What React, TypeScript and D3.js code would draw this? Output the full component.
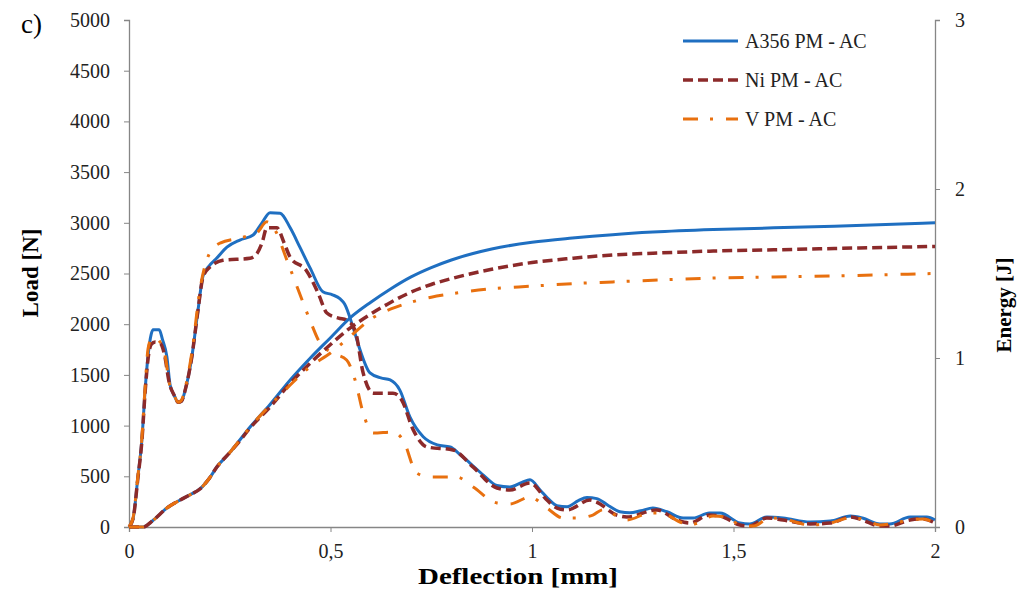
import React, { useRef, useEffect } from 'react';
import * as d3 from 'd3';

// Load curves (left axis, N) vs deflection (mm)
const a356Defl = [0, 0.01, 0.022, 0.032, 0.04, 0.047, 0.055, 0.06, 0.075, 0.083, 0.094, 0.102, 0.112, 0.122, 0.13, 0.14, 0.156, 0.17, 0.184, 0.2, 0.215, 0.243, 0.275, 0.308, 0.33, 0.35, 0.375, 0.4, 0.424, 0.45, 0.481, 0.505, 0.524, 0.535, 0.556, 0.573, 0.598, 0.625, 0.648, 0.672, 0.697, 0.73, 0.765, 0.797, 0.82, 0.846, 0.88, 0.913, 0.945, 0.975, 0.995, 1.02, 1.045, 1.062, 1.087, 1.115, 1.136, 1.161, 1.19, 1.218, 1.243, 1.27, 1.3, 1.335, 1.375, 1.4, 1.44, 1.467, 1.516, 1.54, 1.583, 1.623, 1.69, 1.74, 1.79, 1.82, 1.863, 1.888, 1.938, 1.98, 2.0];
const a356Load = [0, 80, 490, 860, 1350, 1680, 1900, 1945, 1945, 1850, 1680, 1400, 1300, 1230, 1240, 1360, 1680, 2100, 2480, 2580, 2640, 2760, 2830, 2880, 3000, 3100, 3095, 2950, 2760, 2550, 2320, 2290, 2250, 2200, 1970, 1750, 1520, 1470, 1450, 1350, 1085, 890, 810, 790, 720, 630, 510, 410, 395, 440, 465, 365, 260, 210, 200, 260, 290, 280, 210, 150, 140, 160, 187, 150, 89, 89, 138, 138, 39, 30, 99, 89, 49, 59, 108, 89, 30, 30, 99, 99, 69];

const niDefl = [0, 0.01, 0.022, 0.032, 0.04, 0.047, 0.055, 0.065, 0.078, 0.088, 0.1, 0.112, 0.122, 0.13, 0.14, 0.156, 0.17, 0.184, 0.2, 0.213, 0.233, 0.3, 0.318, 0.33, 0.342, 0.367, 0.385, 0.4, 0.44, 0.47, 0.491, 0.52, 0.54, 0.561, 0.581, 0.606, 0.655, 0.677, 0.705, 0.739, 0.804, 0.854, 0.913, 0.945, 0.995, 1.037, 1.062, 1.087, 1.144, 1.16, 1.21, 1.235, 1.31, 1.36, 1.392, 1.44, 1.467, 1.516, 1.54, 1.583, 1.623, 1.69, 1.74, 1.79, 1.82, 1.863, 1.888, 1.938, 1.97, 2.0];
const niLoad = [0, 80, 480, 850, 1330, 1650, 1800, 1825, 1810, 1700, 1420, 1300, 1230, 1240, 1360, 1680, 2100, 2470, 2560, 2600, 2630, 2650, 2700, 2800, 2950, 2950, 2800, 2660, 2530, 2300, 2110, 2060, 2040, 1940, 1520, 1320, 1320, 1250, 960, 790, 760, 590, 385, 365, 434, 266, 187, 168, 266, 246, 118, 99, 168, 69, 39, 118, 108, 20, 10, 89, 69, 30, 39, 99, 69, 10, 10, 69, 79, 39];

const vDefl = [0, 0.01, 0.022, 0.032, 0.04, 0.047, 0.055, 0.068, 0.08, 0.09, 0.1, 0.112, 0.122, 0.13, 0.14, 0.156, 0.176, 0.2, 0.226, 0.275, 0.317, 0.342, 0.362, 0.392, 0.417, 0.449, 0.474, 0.506, 0.54, 0.561, 0.581, 0.606, 0.655, 0.68, 0.714, 0.747, 0.813, 0.854, 0.913, 0.945, 0.995, 1.037, 1.077, 1.111, 1.151, 1.176, 1.235, 1.293, 1.32, 1.375, 1.4, 1.45, 1.48, 1.524, 1.55, 1.59, 1.623, 1.69, 1.74, 1.79, 1.82, 1.863, 1.888, 1.938, 1.97, 2.0];
const vLoad = [0, 90, 500, 880, 1380, 1750, 1850, 1860, 1800, 1680, 1420, 1300, 1230, 1250, 1380, 1720, 2340, 2700, 2800, 2850, 2900, 3010, 2930, 2630, 2370, 2040, 1815, 1716, 1647, 1450, 1124, 927, 937, 858, 532, 493, 493, 394, 237, 227, 296, 187, 89, 89, 118, 170, 69, 138, 138, 39, 30, 108, 99, 10, 10, 89, 79, 20, 39, 89, 79, 20, 30, 69, 79, 39];

// Energy curves (right axis, J)
const energyDefl = [0, 0.035, 0.06, 0.094, 0.127, 0.151, 0.176, 0.2, 0.218, 0.25, 0.275, 0.3, 0.35, 0.4, 0.45, 0.5, 0.55, 0.6, 0.65, 0.7, 0.75, 0.8, 0.9, 1.0, 1.1, 1.2, 1.3, 1.45, 1.6, 1.75, 2.0];
const a356Energy = [0, 0, 0.04, 0.112, 0.16, 0.19, 0.225, 0.29, 0.355, 0.44, 0.515, 0.59, 0.725, 0.87, 1.0, 1.12, 1.24, 1.33, 1.41, 1.48, 1.535, 1.58, 1.645, 1.685, 1.71, 1.73, 1.745, 1.76, 1.77, 1.78, 1.8];
const niEnergy = [0, 0, 0.04, 0.112, 0.16, 0.19, 0.225, 0.29, 0.355, 0.44, 0.51, 0.585, 0.71, 0.85, 0.97, 1.08, 1.18, 1.26, 1.33, 1.39, 1.435, 1.47, 1.525, 1.565, 1.59, 1.61, 1.62, 1.633, 1.64, 1.648, 1.66];
const vEnergy = [0, 0, 0.04, 0.112, 0.16, 0.19, 0.225, 0.29, 0.355, 0.44, 0.515, 0.59, 0.72, 0.84, 0.95, 1.03, 1.13, 1.23, 1.29, 1.33, 1.36, 1.38, 1.41, 1.425, 1.44, 1.45, 1.46, 1.473, 1.48, 1.486, 1.5];

const seriesNames = ['A356 PM - AC', 'Ni PM - AC', 'V PM - AC'];
const xTicks = [0, 0.5, 1, 1.5, 2];
const loadTicks = [0, 500, 1000, 1500, 2000, 2500, 3000, 3500, 4000, 4500, 5000];
const energyTicks = [0, 1, 2, 3];

const App = () => {
  const ref = useRef<SVGSVGElement>(null);
  const width = 1021;
  const height = 593;

  useEffect(() => {
    const margin = { top: 20, right: 86, bottom: 66, left: 129 };
    const font = '"Liberation Serif", "Times New Roman", serif';
    const axisColor = '#868686';

    const x = d3.scaleLinear().domain([0, 2]).range([margin.left, width - margin.right]);
    const yLoad = d3.scaleLinear().domain([0, 5000]).range([height - margin.bottom, margin.top]);
    const yEnergy = d3.scaleLinear().domain([0, 3]).range([height - margin.bottom, margin.top]);

    const styles = [
      { color: '#1f6fc1', dash: null, width: 3 },
      { color: '#8c2a2a', dash: '10 5', width: 3.5 },
      { color: '#e8700f', dash: '15 12 3 13', width: 3 },
    ];

    const loads = [
      { d: a356Defl, v: a356Load },
      { d: niDefl, v: niLoad },
      { d: vDefl, v: vLoad },
    ];
    const energies = [a356Energy, niEnergy, vEnergy];

    const svg = d3.select(ref.current);
    svg.selectAll('*').remove();

    // axes
    const gx = svg.append('g')
      .attr('transform', `translate(0,${height - margin.bottom})`)
      .call(d3.axisBottom(x).tickValues(xTicks).tickSize(5).tickPadding(12)
        .tickFormat(d => String(d).replace('.', ',')));
    const gl = svg.append('g')
      .attr('transform', `translate(${margin.left},0)`)
      .call(d3.axisLeft(yLoad).tickValues(loadTicks).tickSize(5).tickPadding(14)
        .tickFormat(d => String(d)));
    const gr = svg.append('g')
      .attr('transform', `translate(${width - margin.right},0)`)
      .call(d3.axisRight(yEnergy).tickValues(energyTicks).tickSize(5).tickPadding(15)
        .tickFormat(d => String(d)));

    [gx, gl, gr].forEach(g => {
      g.select('.domain').attr('stroke', axisColor).attr('stroke-width', 1.3);
      g.selectAll('.tick line').attr('stroke', axisColor);
      g.selectAll('.tick text').attr('font-family', font).attr('font-size', 20).attr('fill', '#222');
    });

    // curves
    const line = d3.line().curve(d3.curveMonotoneX);
    loads.forEach((s, i) => {
      const pts: [number, number][] = s.d.map((dv, k) => [x(dv), yLoad(s.v[k])]);
      svg.append('path')
        .attr('d', line(pts))
        .attr('fill', 'none')
        .attr('stroke', styles[i].color)
        .attr('stroke-width', styles[i].width)
        .attr('stroke-dasharray', styles[i].dash)
        .attr('stroke-linejoin', 'round');
    });
    energies.forEach((e, i) => {
      const pts: [number, number][] = energyDefl.map((dv, k) => [x(dv), yEnergy(e[k])]);
      svg.append('path')
        .attr('d', line(pts))
        .attr('fill', 'none')
        .attr('stroke', styles[i].color)
        .attr('stroke-width', styles[i].width)
        .attr('stroke-dasharray', styles[i].dash)
        .attr('stroke-linejoin', 'round');
    });

    // legend
    const legend = svg.append('g').attr('transform', 'translate(683,41)');
    seriesNames.forEach((name, i) => {
      const row = legend.append('g').attr('transform', `translate(0,${i * 39})`);
      row.append('line')
        .attr('x1', 0).attr('x2', 55).attr('y1', 0).attr('y2', 0)
        .attr('stroke', styles[i].color)
        .attr('stroke-width', styles[i].width)
        .attr('stroke-dasharray', styles[i].dash);
      row.append('text')
        .attr('x', 62).attr('y', 7)
        .attr('font-family', font).attr('font-size', 20).attr('fill', '#222')
        .text(name);
    });

    // titles (the x title is drawn wide, as in the source image)
    svg.append('text')
      .attr('x', 518).attr('y', 584)
      .attr('text-anchor', 'middle')
      .attr('textLength', 200).attr('lengthAdjust', 'spacingAndGlyphs')
      .attr('font-family', font).attr('font-size', 24).attr('font-weight', 'bold')
      .text('Deflection [mm]');
    svg.append('text')
      .attr('transform', 'translate(38,273) rotate(-90)')
      .attr('text-anchor', 'middle')
      .attr('font-family', font).attr('font-size', 23).attr('font-weight', 'bold')
      .text('Load [N]');
    svg.append('text')
      .attr('transform', 'translate(1011,305) rotate(-90)')
      .attr('text-anchor', 'middle')
      .attr('font-family', font).attr('font-size', 21).attr('font-weight', 'bold')
      .text('Energy [J]');
    svg.append('text')
      .attr('x', 21).attr('y', 33)
      .attr('font-family', font).attr('font-size', 27)
      .text('c)');
  }, []);

  return (
    <svg
      ref={ref}
      width={width}
      height={height}
      style={{ position: 'absolute', left: 0, top: 0, background: '#fff' }}
    />
  );
};

export default App;
